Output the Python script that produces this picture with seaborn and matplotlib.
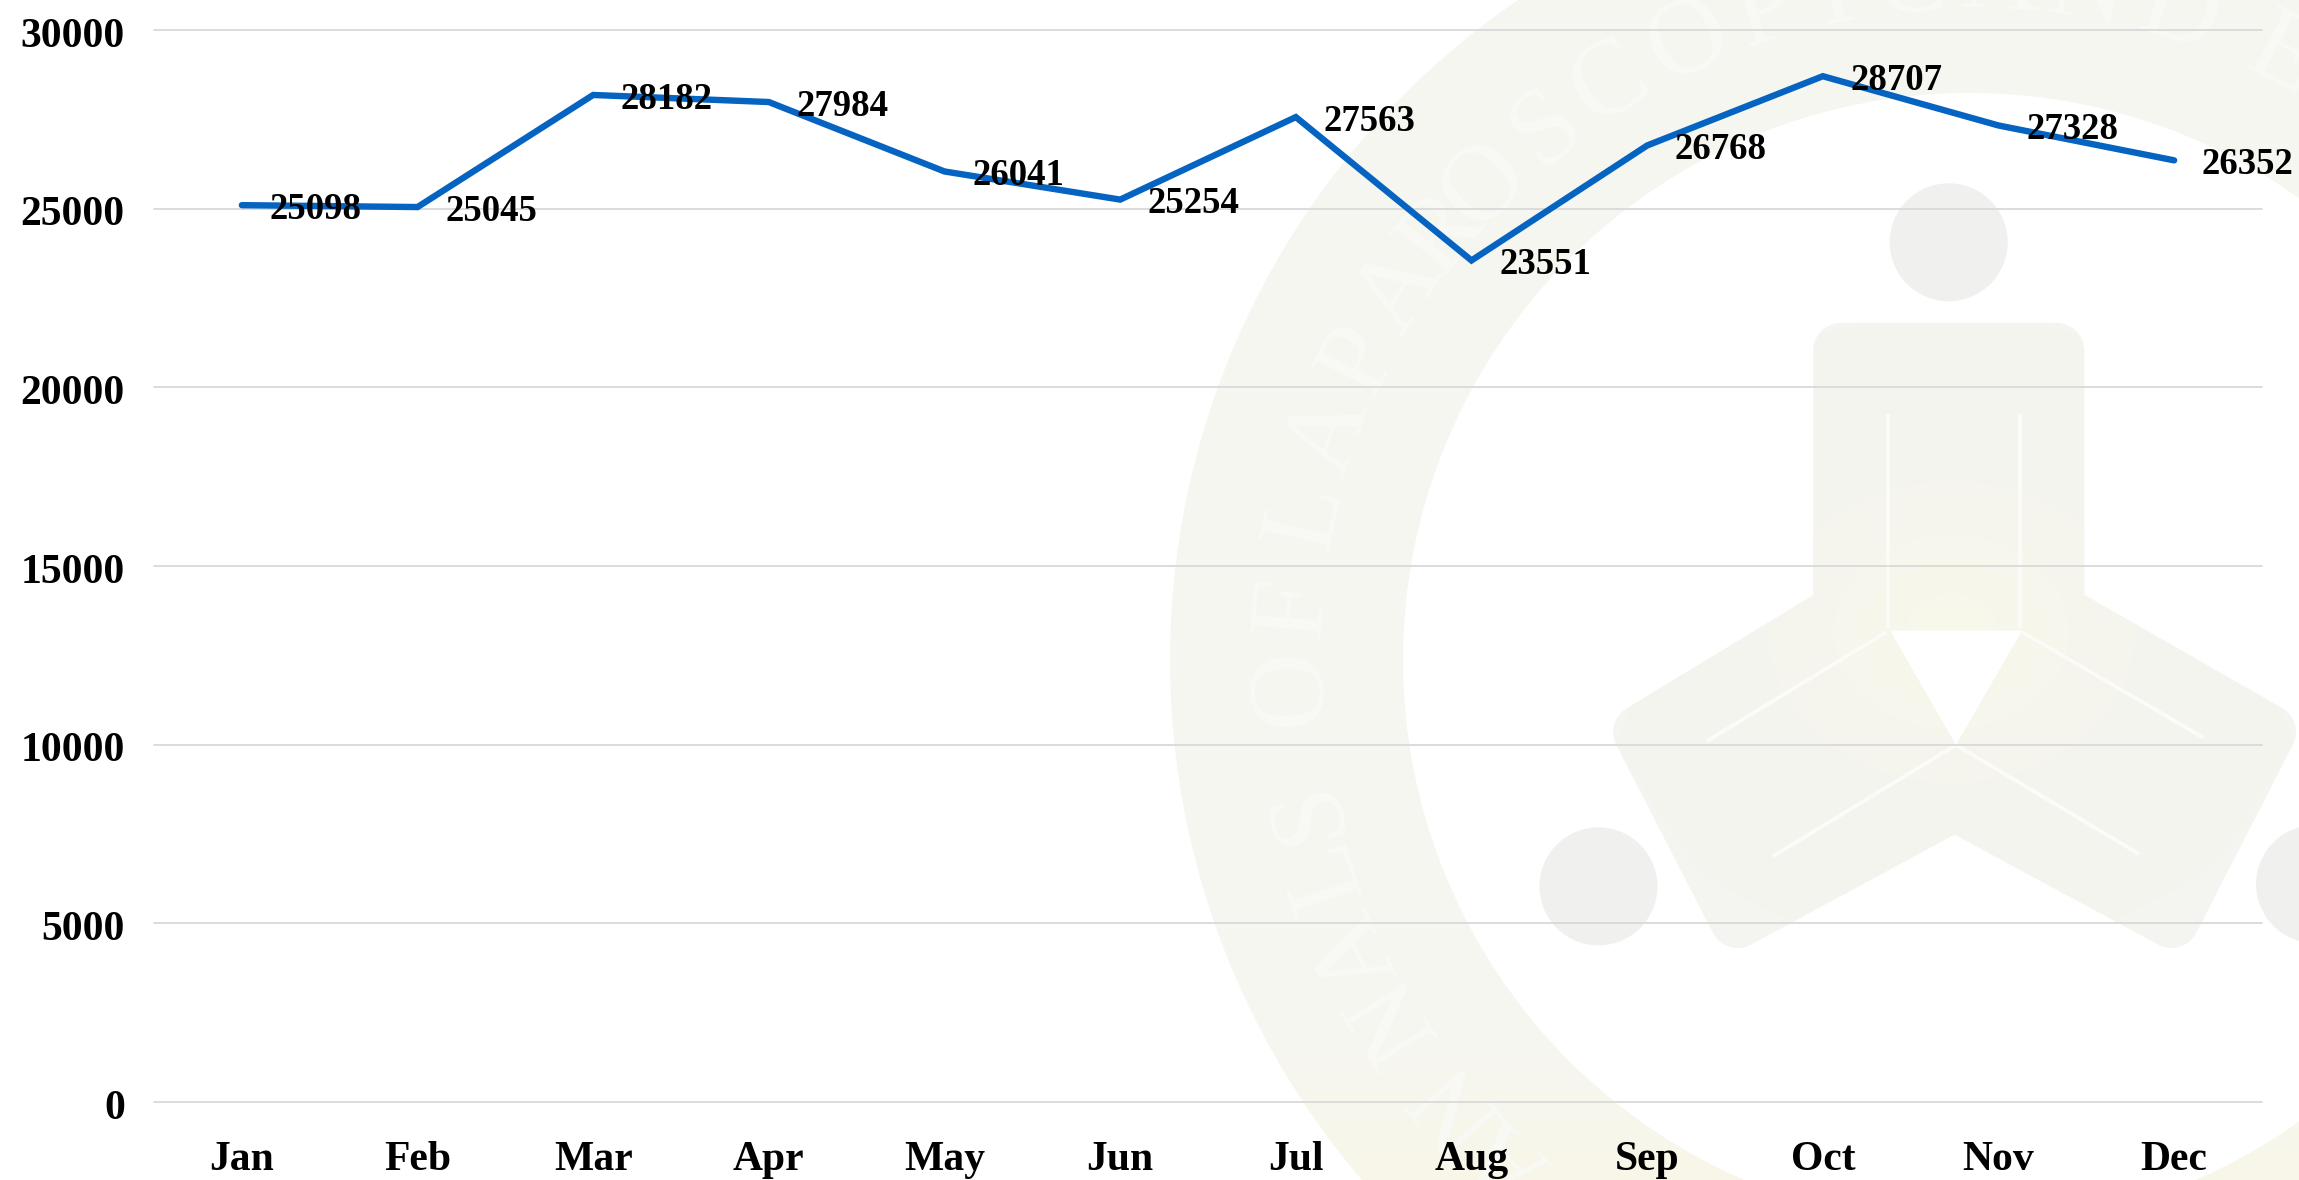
import numpy as np
import pandas as pd
import matplotlib
matplotlib.use("Agg")
import matplotlib.pyplot as plt
from matplotlib.patches import Circle, Wedge, Polygon
from matplotlib.transforms import ScaledTranslation
import seaborn as sns

months = ["Jan", "Feb", "Mar", "Apr", "May", "Jun", "Jul", "Aug", "Sep", "Oct", "Nov", "Dec"]
cases = [25098, 25045, 28182, 27984, 26041, 25254, 27563, 23551, 26768, 28707, 27328, 26352]
y_ticks = [0, 5000, 10000, 15000, 20000, 25000, 30000]

W, H = 2299, 1180
sns.set_theme(style="white")
plt.rcParams["font.family"] = ["Liberation Serif", "DejaVu Serif"]
plt.rcParams["font.weight"] = "bold"

fig = plt.figure(figsize=(W / 100, H / 100), dpi=100, facecolor="white")

# --- watermark background, in pixel coordinates of the figure ---
bg = fig.add_axes([0, 0, 1, 1], zorder=0)
bg.set_xlim(0, W)
bg.set_ylim(H, 0)
bg.axis("off")

def zp(x, y):
    return (1150 + x / 1.3647, y / 1.329)

def tint_layer(rgb, alpha):
    img = np.zeros(alpha.shape + (4,))
    img[..., :3] = rgb
    img[..., 3] = alpha
    return bg.imshow(img, extent=(0, W, H, 0), aspect="auto", interpolation="bilinear", zorder=1.5)

RING = "#f6f6f0"
FIG = "#f4f4f0"
GREY = "#f0f0ee"
cx, cy = 1970, 660
ring = Wedge((cx, cy), 800, 0, 360, width=233, fc=RING, ec="none", zorder=1)
bg.add_patch(ring)
gx, gy = np.meshgrid(np.arange(0, W, 4) + 2.0, np.arange(0, H, 4) + 2.0)
yellow = (0.98, 0.97, 0.88)
im = tint_layer(yellow, np.clip((gy - 1060) / 120, 0, 1) * 0.5)
clip_ring = Wedge((cx, cy), 800, 0, 360, width=233, transform=bg.transData)
im.set_clip_path(clip_ring)

ring_letters = list("ANNALSOFLAPAROSCOPICANDE")
ring_angles = [-137, -130.8, -121.7, -115.4, -108.3, -102.7, -92.3, -85.5, -77.7, -70.5, -63.8, -57,
               -51, -45.6, -38.5, -32, -24.5, -17.4, -11.5, -5, 2.6, 10, 18, 27.5]
for ch, a in zip(ring_letters, ring_angles):
    t = np.deg2rad(a)
    bg.text(cx + 678 * np.sin(t), cy - 678 * np.cos(t), ch, color="#f9f9f6", fontsize=78,
            fontweight="normal", ha="center", va="center", rotation=-a, rotation_mode="anchor", zorder=2)

body = [(943, 466), (1237, 466), (1237, 812), (1526, 973), (1394, 1223),
        (1098, 1067), (802, 1223), (670, 973), (943, 812)]
outer = [(905, 428), (1275, 428), (1275, 790), (1540, 935), (1560, 990), (1380, 1260),
         (1098, 1110), (815, 1260), (635, 990), (660, 935), (905, 790)]
bg.add_patch(Polygon([zp(*p) for p in body], closed=True, fc=FIG, ec=FIG, lw=40, joinstyle="round", zorder=1))
cxg, cyg = zp(1095, 840)
glow = np.exp(-(((gx - cxg) / 170) ** 2 + ((gy - cyg) / 140) ** 2)) * 0.65
im2 = tint_layer((0.98, 0.98, 0.91), glow)
im2.set_clip_path(Polygon([zp(*p) for p in outer], closed=True, transform=bg.transData))
notch = [(1010, 838), (1190, 838), (1100, 990)]
bg.add_patch(Polygon([zp(*p) for p in notch], closed=True, fc="white", ec="none", zorder=2))
for (x, y) in [(1090, 322), (612, 1178), (1590, 1175)]:
    bg.add_patch(Circle(zp(x, y), 59, fc=GREY, ec="none", zorder=1))
segments = [((1007, 550), (1007, 835)), ((1187, 550), (1187, 835)), ((1005, 840), (760, 985)),
            ((1190, 840), (1437, 980)), ((1100, 990), (850, 1138)), ((1100, 990), (1350, 1135))]
for a, b in segments:
    pa, pb = zp(*a), zp(*b)
    bg.plot([pa[0], pb[0]], [pa[1], pb[1]], color="#fbfbf8", lw=2.8, solid_capstyle="butt", zorder=2)
bg.set_xlim(0, W)
bg.set_ylim(H, 0)

# --- chart ---
ax = fig.add_axes([154 / W, 1 - 1102 / H, (2262 - 154) / W, (1102 - 30) / H], zorder=1)
ax.patch.set_alpha(0)
df = pd.DataFrame({"month": months, "cases": cases})
sns.lineplot(data=df, x="month", y="cases", sort=False, color="#0563c1", linewidth=4.6, ax=ax,
             solid_capstyle="round", solid_joinstyle="miter", errorbar=None, zorder=3)
ax.set_xlim(-0.5, 11.5)
ax.set_ylim(0, 30000)
ax.set_yticks(y_ticks)
ax.set_xlabel("")
ax.set_ylabel("")
ax.grid(axis="y", color="#d9d9d9", linewidth=1.3, clip_on=False)
ax.grid(axis="x", visible=False)
ax.set_axisbelow(True)
for s in ax.spines.values():
    s.set_visible(False)
ax.tick_params(axis="y", length=0, pad=21, labelsize=30)
ax.tick_params(axis="x", length=0, pad=28, labelsize=30)
shift = ScaledTranslation(0, -1.5 / 72, fig.dpi_scale_trans)
for lab in ax.get_xticklabels() + ax.get_yticklabels():
    lab.set_fontweight("bold")
    lab.set_color("black")
for lab in ax.get_yticklabels():
    lab.set_transform(lab.get_transform() + shift)
for i, v in enumerate(cases):
    ax.annotate(str(v), (i, v), xytext=(20, -3), textcoords="offset points", fontsize=26.5,
                fontweight="bold", color="black", va="center", ha="left", zorder=4,
                annotation_clip=False)

fig.savefig("out.png", dpi=100)
